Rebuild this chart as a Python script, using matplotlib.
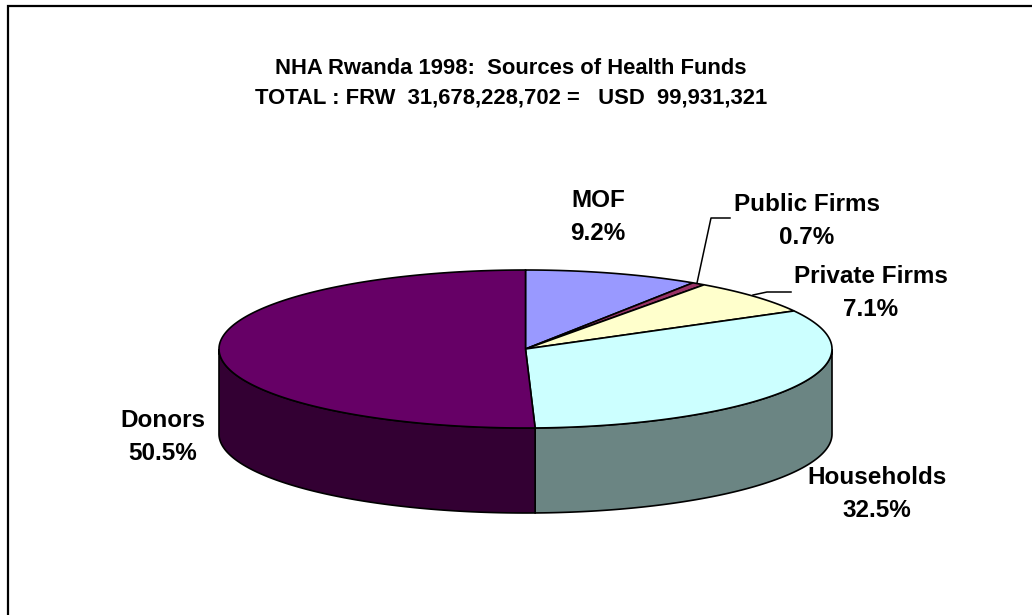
#!/usr/bin/env python3
"""NHA Rwanda 1998 sources of health funds, as a tilted 3D pie."""

import matplotlib

matplotlib.use("Agg")
import matplotlib.pyplot as plt
import numpy as np
from matplotlib.patches import Polygon

plt.rcParams["font.family"] = ["Liberation Sans", "DejaVu Sans"]

TITLE = "NHA Rwanda 1998:  Sources of Health Funds\nTOTAL : FRW  31,678,228,702 =   USD  99,931,321"

categories = ["MOF", "Public Firms", "Private Firms", "Households", "Donors"]
shares = [9.2, 0.7, 7.1, 32.5, 50.5]
top_colors = ["#9999FF", "#993366", "#FFFFCC", "#CCFFFF", "#660066"]
side_colors = ["#6B6BB3", "#6B2447", "#B3B38F", "#6B8583", "#330033"]

# pie geometry in image pixels
CX, CY = 525.5, 349
RX, RY = 306.5, 79
DEPTH = 85

label_pos = {
    "MOF": (598, 217),
    "Public Firms": (807, 221),
    "Private Firms": (871, 293),
    "Households": (877, 494),
    "Donors": (163, 437),
}


def rim(a0, a1, n=200):
    # angles run clockwise from 12 o'clock
    t = np.radians(np.linspace(a0, a1, n))
    return CX + RX * np.sin(t), CY - RY * np.cos(t)


fig = plt.figure(figsize=(10.32, 6.15), dpi=100)
ax = fig.add_axes([0, 0, 1, 1])
ax.set_xlim(0, 1032)
ax.set_ylim(615, 0)
ax.axis("off")

edges = np.concatenate([[0], np.cumsum(shares)]) / sum(shares) * 360

# side walls, only the front half of the rim (90 to 270 degrees) shows
for i in range(len(shares)):
    a0, a1 = max(edges[i], 90), min(edges[i + 1], 270)
    if a0 < a1:
        x, y = rim(a0, a1)
        pts = np.r_[np.c_[x, y], np.c_[x[::-1], y[::-1] + DEPTH]]
        ax.add_patch(Polygon(pts, closed=True, fc=side_colors[i], ec="black", lw=1.2, zorder=2))

# top face
for i in range(len(shares)):
    x, y = rim(edges[i], edges[i + 1])
    pts = np.r_[[[CX, CY]], np.c_[x, y]]
    ax.add_patch(Polygon(pts, closed=True, fc=top_colors[i], ec="black", lw=1.2, zorder=3))

# leader lines
ax.plot([697, 711, 730], [283, 218, 218], color="black", lw=1.1, zorder=4)
ax.plot([753, 767, 791], [295, 292, 292], color="black", lw=1.1, zorder=4)

for name, share in zip(categories, shares):
    lx, ly = label_pos[name]
    ax.text(lx, ly, f"{name}\n{share:.1f}%", ha="center", va="center",
            fontsize=17.5, fontweight="bold", linespacing=1.52, zorder=5)

ax.text(511, 83, TITLE, ha="center", va="center", fontsize=15.8,
        fontweight="bold", linespacing=1.55)

# chart frame, right and bottom are cut off by the image edge
ax.plot([7.5, 7.5, 1032], [615, 5.5, 5.5], color="black", lw=1.6, solid_joinstyle="miter")

fig.savefig("out.png", dpi=100)
